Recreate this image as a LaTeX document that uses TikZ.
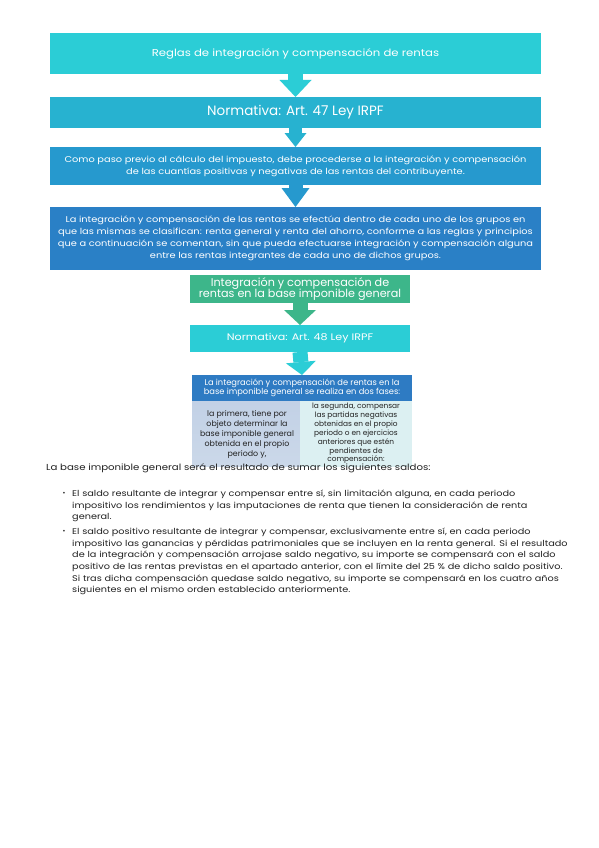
\documentclass[tikz,border=0pt]{standalone}
\usepackage{fontspec}
\setmainfont{Poppins}
\newfontfamily\wide[FakeStretch=1.17]{Poppins}
\usetikzlibrary{arrows.meta}
\definecolor{cA}{HTML}{2BCDD6}
\definecolor{cB}{HTML}{27B2D0}
\definecolor{cC}{HTML}{2699CE}
\definecolor{cD}{HTML}{2A80C6}
\definecolor{cG}{HTML}{3DB68A}
\definecolor{cH}{HTML}{2E7BC3}
\definecolor{cL}{HTML}{CBD8E9}
\definecolor{cLt}{HTML}{C2D1E6}
\definecolor{cR}{HTML}{DCF0F2}
\definecolor{txt}{HTML}{222222}
\newcommand{\jline}[1]{\makebox[478pt][s]{#1}\\}
\tikzset{
  box/.style={rectangle, fill=#1, text=white, align=center, inner sep=0pt, outer sep=0pt},
  blk/.style args={#1/#2/#3/#4}{draw=#1, line width=#2, -{Triangle[width=#3, length=#4, line width=0pt]}},
  para/.style={anchor=north west, text width=478pt, align=left, inner sep=0pt, text=txt,
    font=\wide\fontsize{8.3}{11.6}\selectfont},
}
\begin{document}
\begin{tikzpicture}[x=1pt,y=-1pt]
\useasboundingbox (0,0) rectangle (599,848);
\fill[white] (0,0) rectangle (599,848);

\node[box=cA, minimum width=491pt, minimum height=41pt, font=\wide\fontsize{10}{12}\selectfont] (b1) at (295.5,53.5) {Reglas de integración y compensación de rentas};
\node[box=cB, minimum width=491pt, minimum height=31pt, font=\fontsize{13.5}{15}\selectfont] (b2) at (295.5,112.5) {Normativa: Art. 47 Ley IRPF};
\node[box=cC, minimum width=491pt, minimum height=38pt, font=\wide\fontsize{8.4}{12}\selectfont] (b3) at (295.5,166) {Como paso previo al cálculo del impuesto, debe procederse a la integración y compensación\\de las cuantías positivas y negativas de las rentas del contribuyente.};
\node[box=cD, minimum width=491pt, minimum height=63pt, font=\wide\fontsize{8.4}{12}\selectfont] (b4) at (295.5,238.5) {La integración y compensación de las rentas se efectúa dentro de cada uno de los grupos en\\que las mismas se clasifican: renta general y renta del ahorro, conforme a las reglas y principios\\que a continuación se comentan, sin que pueda efectuarse integración y compensación alguna\\entre las rentas integrantes de cada uno de dichos grupos.};

\node[box=cG, minimum width=220pt, minimum height=28pt, font=\fontsize{11.2}{11.7}\selectfont] (g1) at (300,289) {Integración y compensación de\\rentas en la base imponible general};
\node[box=cA, minimum width=220pt, minimum height=27pt, font=\wide\fontsize{9.5}{11}\selectfont] (g2) at (300,338.5) {Normativa: Art. 48 Ley IRPF};

\node[rectangle, minimum width=110pt, minimum height=65pt, top color=cLt, bottom color=cL, inner sep=0pt] (lb) at (247,433.5) {};
\node[rectangle, fill=cR, minimum width=112pt, minimum height=70pt, inner sep=0pt] (rb) at (356,432) {};
\node[box=cH, minimum width=220pt, minimum height=26pt, font=\fontsize{8.3}{9.5}\selectfont] (hd) at (302,388) {La integración y compensación de rentas en la\\base imponible general se realiza en dos fases:};
\node[align=center, text=txt, font=\fontsize{7.9}{10}\selectfont] (lt) at (247,435) {la primera, tiene por\\objeto determinar la\\base imponible general\\obtenida en el propio\\periodo y,};
\node[align=center, text=txt, font=\fontsize{7.4}{8.9}\selectfont] (rt) at (356,433.5) {la segunda, compensar\\las partidas negativas\\obtenidas en el propio\\periodo o en ejercicios\\anteriores que estén\\pendientes de\\compensación:};

\draw[blk=cA/15pt/32pt/17pt] (b1.south) -- (b2.north);
\draw[blk=cB/13pt/22pt/14pt] (b2.south) -- (b3.north);
\draw[blk=cC/14pt/28pt/19pt] (b3.south) -- (b4.north);
\draw[blk=cG/15pt/32pt/15pt] (g1.south) -- (g2.north);
\draw[blk=cA/15pt/30pt/13pt] (g2.south) -- (hd.north);

\node[anchor=north west, inner sep=0pt, text=txt, font=\wide\fontsize{8.7}{11.6}\selectfont] (intro) at (46,463) {La base imponible general será el resultado de sumar los siguientes saldos:};
\node[inner sep=0pt, text=txt, font=\fontsize{7}{8}\selectfont] (d1) at (64,494) {•};
\node[para] (p1) at (72,490) {\jline{El saldo resultante de integrar y compensar entre sí, sin limitación alguna, en cada periodo}\jline{impositivo los rendimientos y las imputaciones de renta que tienen la consideración de renta}general.};
\node[inner sep=0pt, text=txt, font=\fontsize{7}{8}\selectfont] (d2) at (64,532) {•};
\node[para] (p2) at (72,528) {\jline{El saldo positivo resultante de integrar y compensar, exclusivamente entre sí, en cada periodo}\jline{impositivo las ganancias y pérdidas patrimoniales que se incluyen en la renta general. Si el resultado}\jline{de la integración y compensación arrojase saldo negativo, su importe se compensará con el saldo}\jline{positivo de las rentas previstas en el apartado anterior, con el límite del 25 \% de dicho saldo positivo.}\jline{Si tras dicha compensación quedase saldo negativo, su importe se compensará en los cuatro años}siguientes en el mismo orden establecido anteriormente.};
\end{tikzpicture}
\end{document}
